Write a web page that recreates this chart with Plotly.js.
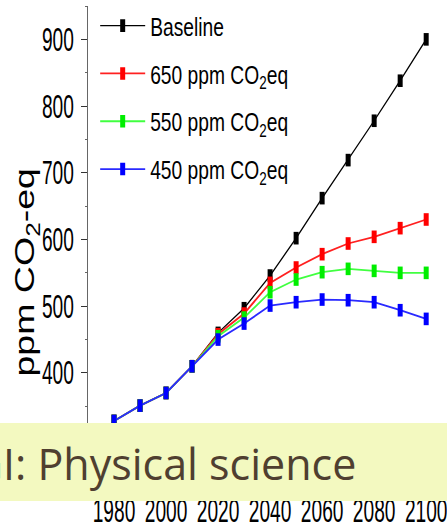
<!DOCTYPE html>
<html>
<head>
<meta charset="utf-8">
<script src="https://cdn.plot.ly/plotly-3.0.1.min.js"></script>
<style>html,body{margin:0;padding:0;background:#fff;overflow:hidden}</style>
</head>
<body>
<div id="chart" style="width:447px;height:522px"></div>
<script>
const years = [1980,1990,2000,2010,2020,2030,2040,2050,2060,2070,2080,2090,2100];
const baseline = [328,351,370,410,460,497,546,602,662,719,778,838,900];
const ppm650 =   [328,351,370,410,458,489,535,558,578,594,604,617,630];
const ppm550 =   [328,351,370,410,455,483,521,540,551,556,553,550,550];
const ppm450 =   [328,351,370,410,450,474,501,506,510,509,506,494,481];
const seriesNames = ['Baseline','650 ppm CO<sub>2</sub>eq','550 ppm CO<sub>2</sub>eq','450 ppm CO<sub>2</sub>eq'];
const xTicks = [1980,2000,2020,2040,2060,2080,2100];
const yTicks = [300,400,500,600,700,800,900];
const yTitle = 'ppm CO<sub>2</sub>-eq';
const bannerText = 'WGI: Physical science';

const sans = '"Liberation Sans", Arial, sans-serif';
const lineCols = ['#000000','#ff2020','#40ff40','#2a2aff'];
const markCols = ['#000000','#ff0000','#00ee00','#0000ff'];
const data = [baseline, ppm650, ppm550, ppm450];

const traces = data.map((ys,i)=>({
  x: years, y: ys, name: seriesNames[i], type:'scatter', mode:'lines+markers',
  legendgroup: 'g'+i,
  line:{color:lineCols[i], width: i===0?1.3:1.8},
  marker:{symbol:'line-ns-open', size:9, color:markCols[i], line:{width:5, color:markCols[i]}}
}));

const layout = {
  width:447, height:522,
  margin:{l:88, r:0, t:6, b:49},
  paper_bgcolor:'#fff', plot_bgcolor:'#fff',
  showlegend:true,
  legend:{x:0.02, y:1.008, xanchor:'left', yanchor:'top', bgcolor:'rgba(0,0,0,0)',
    font:{family:sans, size:26, color:'#000'}, itemwidth:45, tracegroupgap:11},
  xaxis:{range:[1970,2108], tickvals:xTicks, ticktext:xTicks.map(String), tickangle:0,
    ticklabeloverflow:'allow', ticklabelstandoff:5,
    showline:true, linecolor:'#000', linewidth:1, ticks:'outside', ticklen:3, tickcolor:'#000',
    showgrid:false, zeroline:false, tickfont:{family:sans, size:33, color:'#000'}},
  yaxis:{range:[250,950], tickvals:yTicks, ticktext:yTicks.map(String),
    showline:true, linecolor:'#666', linewidth:1.5, ticks:'outside', ticklen:6, tickcolor:'#333',
    minor:{dtick:50, tick0:0, ticks:'outside', ticklen:2, tickcolor:'#666'},
    showgrid:false, zeroline:false, tickfont:{family:sans, size:33, color:'#000'}},
  shapes:[{type:'rect', xref:'paper', yref:'paper', x0:-0.3, x1:1.05, y0:-0.06, y1:0.107,
    fillcolor:'#f3f9c0', line:{width:0}, layer:'above'}],
  annotations:[
    {xref:'paper', yref:'paper', x:-0.173, y:0.43, xanchor:'center', yanchor:'middle', textangle:-90,
     text:yTitle, showarrow:false, font:{family:sans, size:28, color:'#000'}},
    {xref:'paper', yref:'paper', x:0.751, y:0.02, xanchor:'right', yanchor:'middle',
     text:bannerText, showarrow:false, font:{family:'"Open Sans", sans-serif', size:43, color:'#4f3f30'}}]
};

// horizontally rescale a text element about a reference point (mode: 'start'|'middle'|'end')
function scaleText(el, f, mode){
  const b = el.getBBox();
  if(!b.width) return;
  const cx = mode==='end' ? b.x+b.width : (mode==='middle' ? b.x+b.width/2 : b.x);
  const tr = el.getAttribute('transform') || '';
  el.setAttribute('transform', (tr+' translate('+cx+',0) scale('+f+',1) translate('+(-cx)+',0)').trim());
}
Plotly.newPlot('chart', traces, layout, {staticPlot:true, displayModeBar:false}).then(()=>{
  document.querySelectorAll('#chart .xtick text').forEach(t=>scaleText(t,0.58,'middle'));
  document.querySelectorAll('#chart .ytick text').forEach(t=>scaleText(t,0.58,'end'));
  document.querySelectorAll('#chart .legendtext').forEach(t=>scaleText(t,0.74,'start'));
  document.querySelectorAll('#chart .annotation-text').forEach(t=>{
    if(t.textContent.indexOf('ppm')===0) scaleText(t,1.34,'middle');
  });
});
</script>
</body>
</html>
